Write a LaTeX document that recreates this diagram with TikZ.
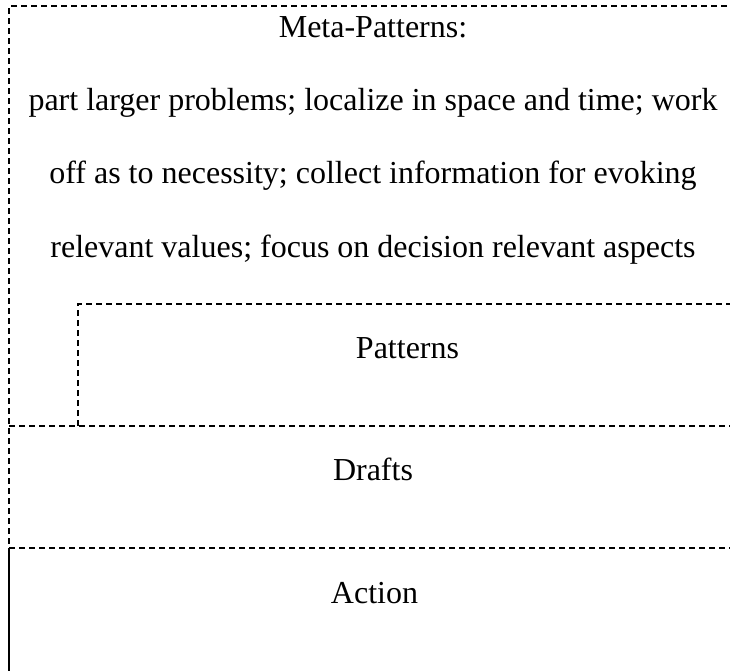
\documentclass[tikz,border=0pt]{standalone}
\usepackage{fontspec}
\setmainfont{Liberation Serif}

\tikzset{
  sepline/.style={line width=2pt, dash pattern=on 6pt off 4pt},
  frameline/.style={line width=2pt},
  boxtext/.style={font=\fontsize{32}{73.4}\selectfont, inner sep=0pt, anchor=base, align=center}
}

\begin{document}
\begin{tikzpicture}[x=1pt,y=-1pt]
    \useasboundingbox (0,0) rectangle (730,670);

    % frame corners
    \coordinate (topL) at (9,6);
    \coordinate (topR) at (737,6);
    \coordinate (patL) at (78,304);
    \coordinate (patR) at (737,304);
    \coordinate (patB) at (78,426);
    \coordinate (draL) at (9,426);
    \coordinate (draR) at (737,426);
    \coordinate (actL) at (9,548);
    \coordinate (actR) at (737,548);
    \coordinate (botL) at (9,672);

    \draw[sepline] (topR)--(topL)--(actL);
    \draw[frameline] (actL)--(botL);
    \draw[sepline] (patB)--(patL)--(patR);
    \draw[sepline] (draL)--(draR);
    \draw[sepline] (actL)--(actR);

    % base of a multi-line node is its last line
    \node[boxtext] at (373,257.2) (meta) {Meta-Patterns:\\
        part larger problems; localize in space and time; work\\
        off as to necessity; collect information for evoking\\
        relevant values; focus on decision relevant aspects};
    \node[boxtext] at (407.5,358) (patterns) {Patterns};
    \node[boxtext] at (373,480) (drafts) {Drafts};
    \node[boxtext] at (374.5,603) (action) {Action};
\end{tikzpicture}
\end{document}
